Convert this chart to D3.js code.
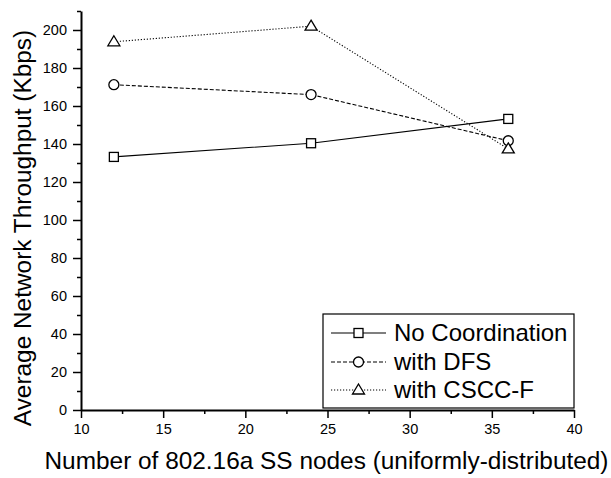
<!DOCTYPE html>
<html><head><meta charset="utf-8">
<script src="https://cdn.jsdelivr.net/npm/d3@7"></script>
<style>body{margin:0;background:#fff}svg{display:block}text{font-family:"Liberation Sans",Arial,sans-serif;fill:#000}.tick text{font-size:14.5px}</style>
</head><body>
<svg id="c" width="611" height="478"></svg>
<script>
const xNodes = [12, 24, 36];
const noCoordination = [133.2, 140.4, 153.2];
const withDFS = [171.2, 166.0, 141.7];
const withCSCCF = [193.8, 202.0, 137.4];
const seriesNames = ["No Coordination", "with DFS", "with CSCC-F"];
const xTicks = [10, 15, 20, 25, 30, 35, 40];
const yTicks = [0, 20, 40, 60, 80, 100, 120, 140, 160, 180, 200];
const xTitle = "Number of 802.16a SS nodes (uniformly-distributed)";
const yTitle = "Average Network Throughput (Kbps)";

const svg = d3.select("#c");
const x = d3.scaleLinear().domain([10, 40]).range([81, 574]);
const y = d3.scaleLinear().domain([0, 210]).range([410, 11]);

const xMinor = d3.range(10, 40.01, 2.5).filter(v => !xTicks.includes(v));
const yMinor = d3.range(0, 210.01, 10).filter(v => !yTicks.includes(v));

const gx = svg.append("g").attr("transform", "translate(0,410)");
gx.call(d3.axisBottom(x).tickValues(xMinor).tickSize(4).tickFormat("")).call(g => g.select(".domain").remove());
gx.append("g").call(d3.axisBottom(x).tickValues(xTicks).tickSize(8).tickSizeOuter(0).tickPadding(6).tickFormat(d3.format("d")));
gx.selectAll(".domain").attr("stroke-width", 2);
gx.selectAll(".tick line").attr("stroke-width", 1.5);

const gy = svg.append("g").attr("transform", "translate(81,0)");
gy.call(d3.axisLeft(y).tickValues(yMinor).tickSize(4).tickFormat("")).call(g => g.select(".domain").remove());
gy.append("g").call(d3.axisLeft(y).tickValues(yTicks).tickSize(8).tickSizeOuter(0).tickPadding(6).tickFormat(d3.format("d")));
gy.selectAll(".domain").attr("stroke-width", 2);
gy.selectAll(".tick line").attr("stroke-width", 1.5);

svg.append("text").attr("x", 326.5).attr("y", 469).attr("text-anchor", "middle")
  .style("font-size", "24.4px").text(xTitle);
svg.append("text").attr("transform", "translate(31,228) rotate(-90)").attr("text-anchor", "middle")
  .style("font-size", "24.4px").text(yTitle);

const dashes = [null, "4,2", "1.2,1.8"];
const data = [noCoordination, withDFS, withCSCCF];
const line = d3.line().x(d => x(d[0])).y(d => y(d[1]));

function marker(g, type, cx, cy) {
  if (type === 0) g.append("rect").attr("x", cx - 4.5).attr("y", cy - 4.5).attr("width", 9).attr("height", 9);
  else if (type === 1) g.append("circle").attr("cx", cx).attr("cy", cy).attr("r", 5);
  else g.append("path").attr("d", `M${cx},${cy - 6}L${cx + 6},${cy + 4}L${cx - 6},${cy + 4}Z`);
}

data.forEach((vals, i) => {
  const pts = xNodes.map((xv, j) => [xv, vals[j]]);
  svg.append("path").attr("d", line(pts)).attr("fill", "none").attr("stroke", "#000")
    .attr("stroke-width", 1.1).attr("stroke-dasharray", dashes[i]);
  const mg = svg.append("g").attr("fill", "#fff").attr("stroke", "#000").attr("stroke-width", 1.3);
  pts.forEach(p => marker(mg, i, x(p[0]), y(p[1])));
});

const lg = svg.append("g");
lg.append("rect").attr("x", 323).attr("y", 314).attr("width", 251).attr("height", 94)
  .attr("fill", "#fff").attr("stroke", "#000").attr("stroke-width", 1.2);
const rowY = [333, 362, 390];
seriesNames.forEach((name, i) => {
  lg.append("line").attr("x1", 331).attr("x2", 386).attr("y1", rowY[i]).attr("y2", rowY[i])
    .attr("stroke", "#000").attr("stroke-width", 1.1).attr("stroke-dasharray", dashes[i]);
  const mg = lg.append("g").attr("fill", "#fff").attr("stroke", "#000").attr("stroke-width", 1.3);
  marker(mg, i, 358.5, rowY[i]);
  lg.append("text").attr("x", 394).attr("y", rowY[i] + 8).style("font-size", "24px").text(name);
});
</script>
</body></html>
